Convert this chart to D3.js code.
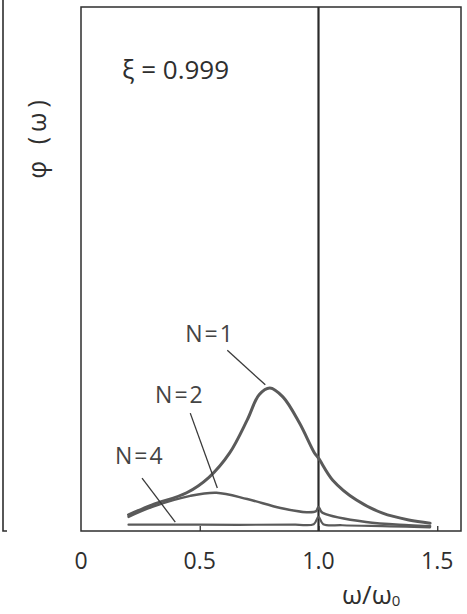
<!DOCTYPE html>
<html>
<head>
<meta charset="utf-8">
<script src="https://cdn.jsdelivr.net/npm/d3@7"></script>
<style>
  body { margin: 0; background: #fff; }
  text { font-family: "Open Sans", "DejaVu Sans", sans-serif; }
</style>
</head>
<body>
<div id="chart"></div>
<script>
// values (phi in % of the axis height)
const omegaN1 = [0.2, 0.3, 0.445, 0.54, 0.626, 0.70, 0.75, 0.795, 0.85, 0.92, 0.983, 1.0, 1.06, 1.16, 1.27, 1.38, 1.47];
const phiN1   = [3.1, 5.0, 7.3, 10.3, 14.9, 21.2, 26.0, 27.3, 25.6, 20.6, 14.9, 13.9, 9.7, 5.9, 3.4, 2.1, 1.5];

const omegaN2 = [0.2, 0.3, 0.46, 0.57, 0.70, 0.84, 0.95, 0.99, 1.0, 1.01, 1.02, 1.2, 1.38, 1.47];
const phiN2   = [2.7, 4.6, 6.7, 7.3, 6.1, 4.4, 3.6, 3.8, 4.6, 3.8, 3.4, 1.7, 1.1, 0.9];

const omegaN4 = [0.2, 0.5, 0.9, 0.98, 1.0, 1.02, 1.1, 1.3, 1.47];
const phiN4   = [1.2, 1.2, 1.2, 1.3, 2.7, 1.3, 1.1, 0.9, 0.7];

const xTicks = [0, 0.5, 1.0, 1.5];
const xTickLabels = ["0", "0.5", "1.0", "1.5"];

// curve labels: text anchor and leader line ends, in data units
const curveLabels = [
  { text: "N=1", x: 0.439, y: 36.1, from: [0.616, 34.5], to: [0.776, 27.9] },
  { text: "N=2", x: 0.312, y: 24.4, from: [0.46, 22.5], to: [0.574, 8.2] },
  { text: "N=4", x: 0.143, y: 12.8, from: [0.257, 10.1], to: [0.397, 1.7] }
];

const width = 467, height = 614;
const margin = { top: 7, right: 6, bottom: 83, left: 81 };

const svg = d3.select("#chart").append("svg")
  .attr("width", width)
  .attr("height", height);

const xScale = d3.scaleLinear()
  .domain([0, 1.6])
  .range([margin.left, width - margin.right]);

const yScale = d3.scaleLinear()
  .domain([0, 100])
  .range([height - margin.bottom, margin.top]);

const ink = "#2e2e2e";
const curveInk = "#5a5a5a";

// edge of the neighbouring panel on the left
svg.append("path")
  .attr("d", `M3,0 V${yScale(0)} h4`)
  .attr("fill", "none")
  .attr("stroke", ink)
  .attr("stroke-width", 1.6);

// plot frame
svg.append("rect")
  .attr("x", xScale(0))
  .attr("y", yScale(100))
  .attr("width", xScale(1.6) - xScale(0))
  .attr("height", yScale(0) - yScale(100))
  .attr("fill", "none")
  .attr("stroke", ink)
  .attr("stroke-width", 1.5);

// x axis: short inner ticks plus labels
const xAxis = d3.axisTop(xScale)
  .tickValues(xTicks.slice(1))
  .tickSize(5)
  .tickFormat("");
svg.append("g")
  .attr("transform", `translate(0,${yScale(0)})`)
  .call(xAxis)
  .call(g => g.select(".domain").remove())
  .call(g => g.selectAll("line").attr("stroke", ink).attr("stroke-width", 1.3));

svg.append("g")
  .selectAll("text")
  .data(xTicks)
  .enter().append("text")
  .attr("x", d => xScale(d))
  .attr("y", yScale(0) + 38)
  .attr("text-anchor", "middle")
  .attr("font-size", 23)
  .attr("fill", ink)
  .text((d, i) => xTickLabels[i]);

// delta line at omega = omega0
svg.append("line")
  .attr("x1", xScale(1.0)).attr("x2", xScale(1.0))
  .attr("y1", yScale(100)).attr("y2", yScale(0))
  .attr("stroke", "#2a2a2a")
  .attr("stroke-width", 2.2);

// curves
const line = d3.line()
  .x(d => xScale(d[0]))
  .y(d => yScale(d[1]))
  .curve(d3.curveCatmullRom.alpha(0.5));

const series = [
  { w: omegaN4, p: phiN4, sw: 2.2 },
  { w: omegaN2, p: phiN2, sw: 2.5 },
  { w: omegaN1, p: phiN1, sw: 3 }
];

series.forEach(s => {
  svg.append("path")
    .datum(d3.zip(s.w, s.p))
    .attr("fill", "none")
    .attr("stroke", curveInk)
    .attr("stroke-width", s.sw)
    .attr("stroke-linecap", "round")
    .attr("d", line);
});

// labels with leader lines
svg.append("g")
  .selectAll("line")
  .data(curveLabels)
  .enter().append("line")
  .attr("x1", d => xScale(d.from[0]))
  .attr("y1", d => yScale(d.from[1]))
  .attr("x2", d => xScale(d.to[0]))
  .attr("y2", d => yScale(d.to[1]))
  .attr("stroke", "#3a3a3a")
  .attr("stroke-width", 1.3);

svg.append("g")
  .selectAll("text")
  .data(curveLabels)
  .enter().append("text")
  .attr("x", d => xScale(d.x))
  .attr("y", d => yScale(d.y))
  .attr("font-size", 23)
  .attr("letter-spacing", 2)
  .attr("fill", "#444")
  .text(d => d.text);

// parameter note
svg.append("text")
  .attr("x", xScale(0.173))
  .attr("y", yScale(86.3))
  .attr("font-size", 26)
  .attr("fill", ink)
  .text("ξ = 0.999");

// axis titles
svg.append("text")
  .attr("transform", "translate(46,137) rotate(-90)")
  .attr("text-anchor", "middle")
  .attr("font-size", 25)
  .attr("letter-spacing", 5)
  .attr("fill", ink)
  .text("φ (ω)");

const xTitle = svg.append("text")
  .attr("x", 342)
  .attr("y", 604)
  .attr("font-size", 26)
  .attr("fill", ink);
xTitle.append("tspan").text("ω/ω");
xTitle.append("tspan").attr("font-size", 15).attr("dy", 2).text("0");
</script>
</body>
</html>
